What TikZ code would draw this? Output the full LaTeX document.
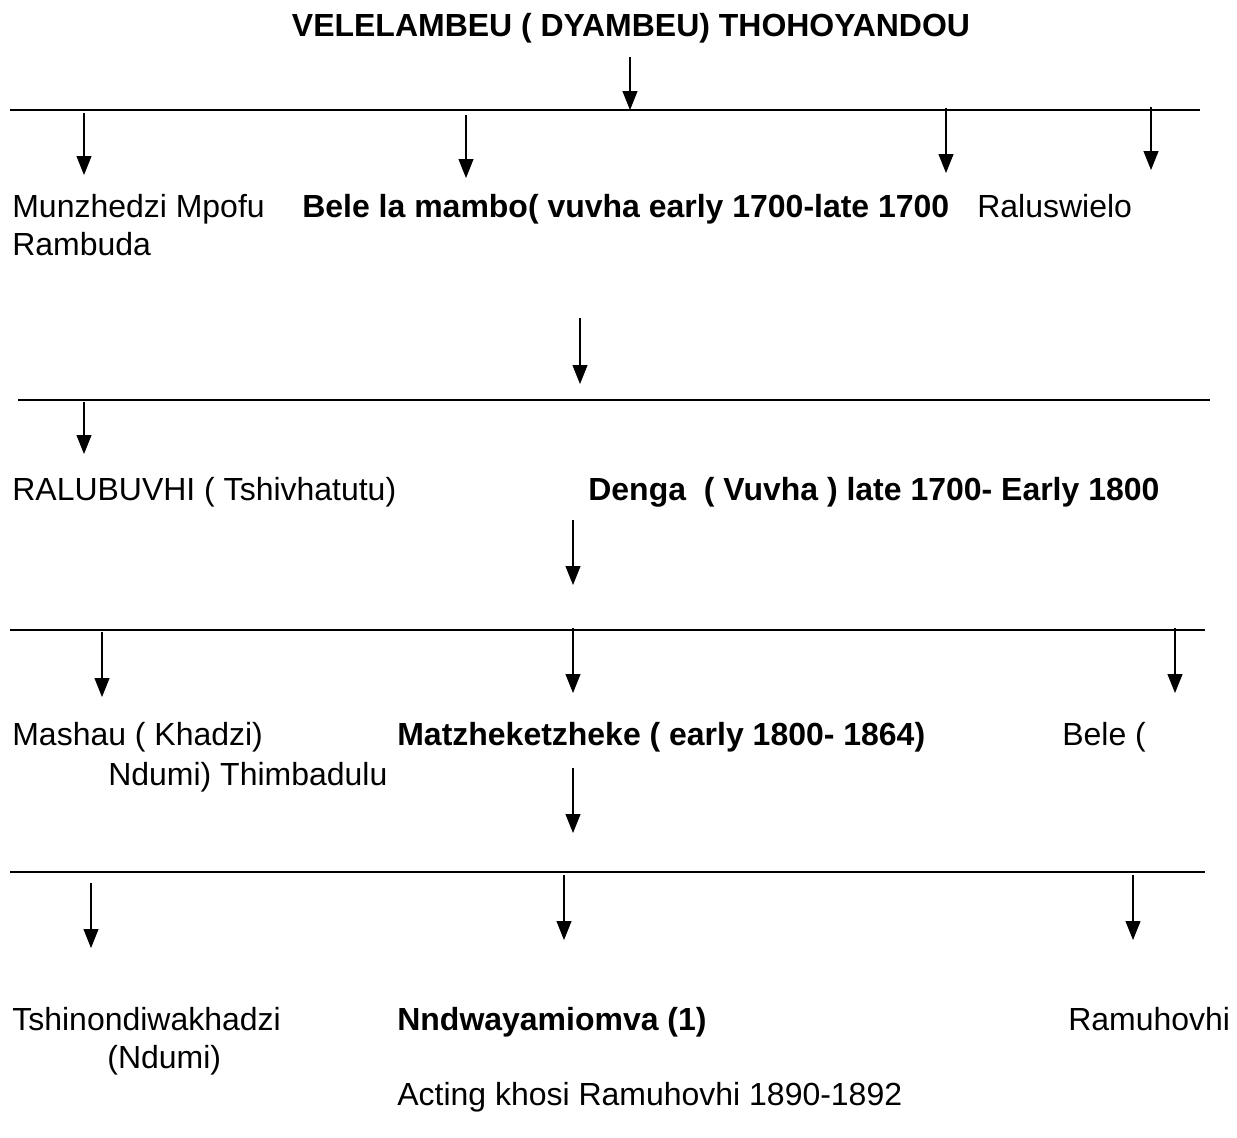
\documentclass[tikz,border=0pt]{standalone}
\usepackage{fontspec}
\setmainfont{Liberation Sans}
\usetikzlibrary{arrows.meta}

\newcommand\famsize{\fontsize{18.2}{22}\selectfont}

\tikzset{
  arr/.style={line width=0.6pt, -{Triangle[width=0.3cm,length=0.38cm]}},
  bar/.style={line width=0.8pt},
  kin/.style={anchor=base west, inner sep=0pt},
  ruler/.style={kin, font=\famsize\bfseries}
}

\begin{document}
\begin{tikzpicture}[x=0.02cm, y=-0.02cm, font=\famsize]
  \useasboundingbox (0,0) rectangle (1237,1137);

  % title
  \node[anchor=base, inner sep=0pt, font=\famsize\bfseries] (top) at (631,36) {VELELAMBEU ( DYAMBEU) THOHOYANDOU};

  % family lines
  \coordinate (l1w) at (10,110);  \coordinate (l1e) at (1200,110);
  \coordinate (l2w) at (18,400);  \coordinate (l2e) at (1210,400);
  \coordinate (l3w) at (10,630);  \coordinate (l3e) at (1205,630);
  \coordinate (l4w) at (10,872);  \coordinate (l4e) at (1205,872);
  \foreach \l in {1,...,4}
    \draw[bar] (l\l w) -- (l\l e);

  % arrows
  \foreach \x/\ya/\yb/\n in {630/57/110/t0,
      84/113/175/a1, 466/115/178/b1, 946/108/173/c1, 1151/107/170/d1,
      580/318/384/t1,
      84/402/454/a2,
      573/520/585/t2,
      102/632/697/a3, 573/628/693/b3, 1175/628/693/c3,
      573/768/833/t3,
      91/883/948/a4, 564/875/940/b4, 1133/875/940/c4} {
    \coordinate (s\n) at (\x,\ya);
    \coordinate (e\n) at (\x,\yb);
    \draw[arr] (s\n) -- (e\n);
  }

  % first generation
  \node[kin] (munz) at (12,217) {Munzhedzi Mpofu};
  \node[kin] (ramb) at (12,255) {Rambuda};
  \node[ruler] (bele) at (302,217) {Bele la mambo( vuvha early 1700-late 1700};
  \node[kin] (ralu) at (977,217) {Raluswielo};

  % second generation
  \node[kin] (ralb) at (12,500) {RALUBUVHI ( Tshivhatutu)};
  \node[ruler] (denga) at (588,500) {Denga\ \ ( Vuvha ) late 1700- Early 1800};

  % third generation
  \node[kin] (mash) at (12,745) {Mashau ( Khadzi)};
  \node[kin] (ndum) at (108,785) {Ndumi) Thimbadulu};
  \node[ruler] (matz) at (397,745) {Matzheketzheke ( early 1800- 1864)};
  \node[kin] (bele2) at (1062,745) {Bele (};

  % fourth generation
  \node[kin] (tshi) at (12,1030) {Tshinondiwakhadzi};
  \node[kin] (ndu2) at (107,1068) {(Ndumi)};
  \node[ruler] (nndw) at (397,1030) {Nndwayamiomva (1)};
  \node[kin] (ramu) at (1068,1030) {Ramuhovhi};
  \node[kin] (act) at (397,1105) {Acting khosi Ramuhovhi 1890-1892};
\end{tikzpicture}
\end{document}
